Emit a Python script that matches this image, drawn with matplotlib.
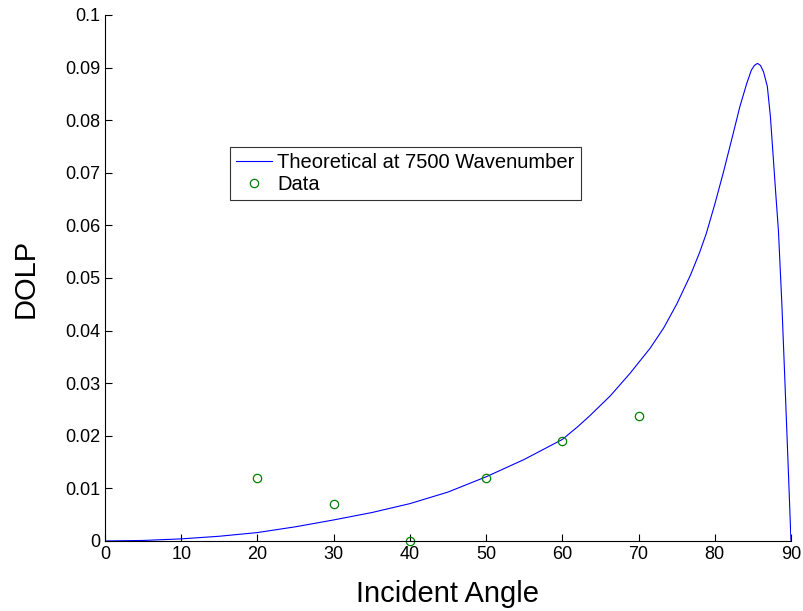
import matplotlib.pyplot as plt

# theoretical curve
theory_angle = [0, 5, 10, 15, 20, 25, 30, 35, 40, 45, 50, 55, 60, 62, 63.6,
                66.3, 68.9, 71.5, 73.3, 75.0, 76.8, 78.0, 78.9, 80.0, 81.1,
                82.2, 83.3, 84.2, 84.8, 85.2, 85.6, 86.0, 86.4, 86.9, 87.3,
                87.7, 88.0, 88.35, 88.8, 89.2, 89.6, 90]
theory_dolp = [0, 0.0001, 0.0004, 0.0009, 0.0016, 0.0027, 0.0040, 0.0054,
               0.0071, 0.0093, 0.0122, 0.0155, 0.0193, 0.0217, 0.0238,
               0.0276, 0.0319, 0.0366, 0.0405, 0.0450, 0.0505, 0.0548,
               0.0585, 0.0640, 0.0699, 0.0762, 0.0826, 0.0870, 0.0895,
               0.0904, 0.0908, 0.0904, 0.0892, 0.0864, 0.0807, 0.0724,
               0.0661, 0.0591, 0.0452, 0.0305, 0.0155, 0]

# measured points
data_angle = [20, 30, 40, 50, 60, 70]
data_dolp = [0.012, 0.007, 0.0, 0.012, 0.019, 0.0237]

xticks = list(range(0, 91, 10))
yticks = [i / 100 for i in range(0, 11)]
ytick_labels = ["0"] + ["%g" % v for v in yticks[1:]]

plt.rcParams['font.family'] = ['Liberation Sans', 'DejaVu Sans']

fig = plt.figure(figsize=(8.04, 6.11), dpi=100)
ax = fig.add_axes([0.1306, 0.1146, 0.8532, 0.8609])

ax.plot(theory_angle, theory_dolp, color=(0, 0, 1), lw=0.8,
        label="Theoretical at 7500 Wavenumber")
ax.plot(data_angle, data_dolp, 'o', color=(0, 0.5, 0), mfc='none',
        ms=6, mew=0.9, label="Data", clip_on=False)

ax.set_xlim(0, 90)
ax.set_ylim(0, 0.1)
ax.set_xticks(xticks)
ax.set_yticks(yticks)
ax.set_yticklabels(ytick_labels)
ax.tick_params(direction='in', length=5, width=0.8, labelsize=13, pad=3.5)

ax.spines['top'].set_visible(False)
ax.spines['right'].set_visible(False)

ax.set_xlabel("Incident Angle", fontsize=21, labelpad=12)
ax.set_ylabel("DOLP", fontsize=21, labelpad=18)

leg = ax.legend(loc='upper left', bbox_to_anchor=(0.182, 0.749), fontsize=14.5,
                frameon=True, fancybox=False, edgecolor='black',
                handlelength=1.8, handletextpad=0.25, borderpad=0.3,
                labelspacing=0.15, borderaxespad=0)
leg.get_frame().set_linewidth(0.8)

fig.savefig("out.png", dpi=100)
